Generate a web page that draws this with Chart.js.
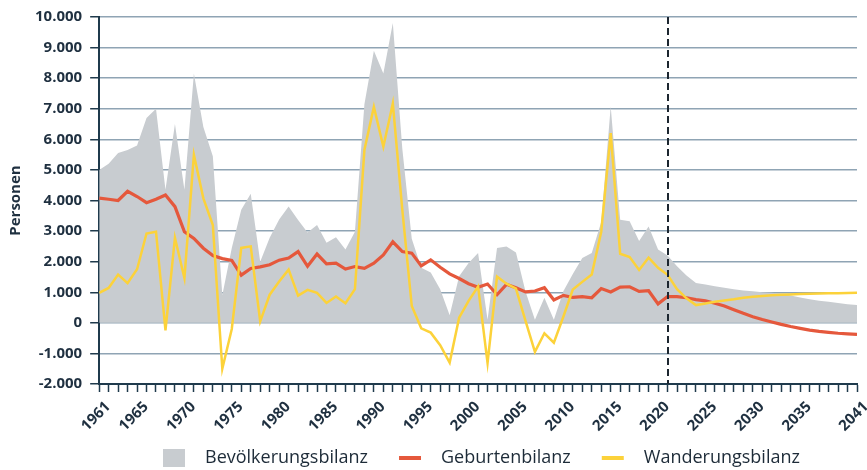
<!DOCTYPE html>
<html>
<head>
<meta charset="utf-8">
<script src="https://cdn.jsdelivr.net/npm/chart.js@4.4.1/dist/chart.umd.min.js"></script>
<style>
  html, body { margin: 0; padding: 0; background: #fff; }
  #wrap { width: 867px; height: 470px; }
</style>
</head>
<body>
<div id="wrap"><canvas id="bilanz-chart"></canvas></div>
<script>
const years = [];
for (let y = 1961; y <= 2041; y++) years.push(y);

const labelYears = [1961, 1965, 1970, 1975, 1980, 1985, 1990, 1995, 2000, 2005,
  2010, 2015, 2020, 2025, 2030, 2035, 2041];
const markYear = 2021;

// Bevölkerungsbilanz 1961-2041
const bevoelkerung = [
  5000, 5200, 5550, 5650, 5800, 6700, 7000, 4350, 6500, 4350,
  8150, 6400, 5450, 900, 2450, 3700, 4220, 2000, 2780, 3380,
  3800, 3360, 2950, 3200, 2620, 2800, 2400, 2980, 7150, 8900,
  8150, 9800, 5700, 2750, 1800, 1650, 1100, 250, 1520, 1960,
  2280, 100, 2450, 2500, 2300, 1030, 100, 820, 100, 1030,
  1600, 2120, 2280, 3300, 7070, 3370, 3320, 2680, 3150, 2400,
  2200, 1850, 1550, 1300, 1250, 1200, 1150, 1100, 1060, 1030,
  1000, 980, 950, 890, 830, 770, 720, 690, 650, 610,
  580
];

// Geburtenbilanz 1961-2041
const geburten = [
  4080, 4040, 4000, 4300, 4130, 3930, 4040, 4180, 3800, 2980,
  2760, 2440, 2200, 2100, 2040, 1560, 1780, 1830, 1900, 2050,
  2120, 2330, 1850, 2250, 1930, 1950, 1760, 1840, 1780, 1950,
  2220, 2650, 2330, 2280, 1860, 2060, 1820, 1600, 1450, 1280,
  1160, 1270, 920, 1260, 1150, 1010, 1040, 1150, 750, 900,
  830, 860, 820, 1120, 1010, 1170, 1180, 1030, 1050, 620,
  860, 860, 820, 760, 720, 640, 550, 430, 310, 200,
  110, 30, -50, -120, -180, -240, -280, -310, -340, -360,
  -375
];

// Wanderungsbilanz 1961-2041
const wanderung = [
  980, 1140, 1580, 1300, 1750, 2920, 2980, -250, 2780, 1460,
  5490, 4070, 3200, -1500, -200, 2450, 2500, 50, 920, 1350,
  1740, 890, 1080, 980, 650, 860, 640, 1100, 5650, 7060,
  5760, 7170, 3700, 550, -180, -320, -730, -1300, 170, 720,
  1190, -1310, 1510, 1280, 1120, 70, -950, -340, -650, 200,
  1090, 1340, 1580, 2980, 6200, 2260, 2150, 1730, 2130, 1800,
  1570, 1100, 800, 580, 630, 690, 730, 770, 820, 850,
  880, 900, 920, 930, 940, 950, 960, 965, 970, 975,
  980
];

const toPoints = (vals) => vals.map((v, i) => ({ x: years[i], y: v }));

function deNumber(v) {
  const s = Math.abs(v).toString().replace(/\B(?=(\d{3})+(?!\d))/g, '.');
  return (v < 0 ? '-' : '') + s;
}

// dashed marker at the last observed year
const dashedLine = {
  id: 'dashedLine',
  afterDatasetsDraw(chart) {
    const { ctx, chartArea, scales } = chart;
    const x = Math.round(scales.x.getPixelForValue(markYear));
    ctx.save();
    ctx.setLineDash([7, 4]);
    ctx.lineWidth = 2;
    ctx.strokeStyle = '#1c2630';
    ctx.beginPath();
    ctx.moveTo(x, chartArea.top);
    ctx.lineTo(x, chartArea.bottom);
    ctx.stroke();
    ctx.restore();
  }
};

// legend drawn by hand: box for the area, short strokes for the lines
const bottomLegend = {
  id: 'bottomLegend',
  afterDraw(chart) {
    const { ctx } = chart;
    const items = chart.data.datasets.slice().reverse();
    const y = 458;
    let x = 163;
    ctx.save();
    ctx.font = "18px 'Open Sans', sans-serif";
    ctx.textBaseline = 'middle';
    items.forEach((ds) => {
      if (ds.fill) {
        ctx.fillStyle = ds.backgroundColor;
        ctx.fillRect(x, y - 9, 22, 18);
      } else {
        ctx.strokeStyle = ds.borderColor;
        ctx.lineWidth = 4;
        ctx.beginPath();
        ctx.moveTo(x, y);
        ctx.lineTo(x + 22, y);
        ctx.stroke();
      }
      x += 22 + 20;
      ctx.fillStyle = '#1d2b38';
      ctx.fillText(ds.label, x, y);
      x += ctx.measureText(ds.label).width + 31;
    });
    ctx.restore();
  }
};

Chart.defaults.font.family = "'Open Sans', sans-serif";
Chart.defaults.color = '#1f3040';

const config = {
  type: 'line',
  data: {
    datasets: [
      {
        label: 'Wanderungsbilanz',
        data: toPoints(wanderung),
        borderColor: '#fcd23a',
        borderWidth: 2.5,
        pointRadius: 0,
        fill: false,
        order: 1,
      },
      {
        label: 'Geburtenbilanz',
        data: toPoints(geburten),
        borderColor: '#e5583c',
        borderWidth: 3.2,
        pointRadius: 0,
        fill: false,
        order: 2,
      },
      {
        label: 'Bevölkerungsbilanz',
        data: toPoints(bevoelkerung),
        borderWidth: 0,
        borderColor: 'rgba(0,0,0,0)',
        backgroundColor: '#c8ccd0',
        pointRadius: 0,
        fill: 'origin',
        order: 3,
      },
    ],
  },
  options: {
    responsive: true,
    maintainAspectRatio: false,
    animation: false,
    layout: { padding: { left: 1, top: 7, right: 10, bottom: 29 } },
    plugins: {
      tooltip: { enabled: false },
      legend: { display: false },
    },
    scales: {
      x: {
        type: 'linear',
        min: 1961,
        max: 2041,
        // let the last year label run to the canvas edge
        afterFit(scale) { scale.paddingRight = 0; },
        border: { color: '#1f3a4c', width: 2 },
        grid: {
          drawOnChartArea: false,
          tickLength: 8,
          tickColor: '#1f3a4c',
          tickWidth: 1.5,
        },
        ticks: {
          stepSize: 1,
          autoSkip: false,
          maxRotation: 45,
          minRotation: 45,
          padding: 6,
          labelOffset: 9,
          font: { size: 15, weight: 'bold' },
          callback: (v) => (labelYears.includes(v) ? String(v) : ''),
        },
      },
      y: {
        min: -2000,
        max: 10000,
        border: { color: '#1f3a4c', width: 2 },
        title: {
          display: true,
          text: 'Personen',
          font: { size: 15, weight: 'bold' },
          padding: { top: 6, bottom: 2 },
        },
        grid: {
          color: '#8fa4b4',
          lineWidth: 1.5,
          tickLength: 9,
          tickColor: '#1f3a4c',
        },
        ticks: {
          stepSize: 1000,
          padding: 8,
          font: { size: 15, weight: 'bold' },
          callback: (v) => deNumber(v),
        },
      },
    },
  },
  plugins: [dashedLine, bottomLegend],
};

const bilanzChart = new Chart(document.getElementById('bilanz-chart'), config);
</script>
</body>
</html>
